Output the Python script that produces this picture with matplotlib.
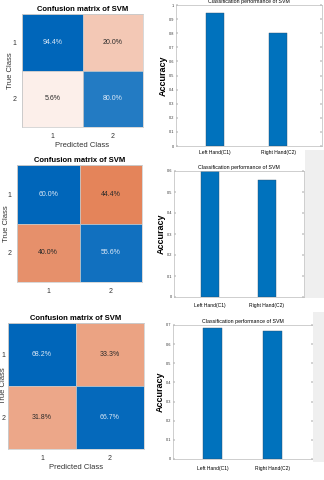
import numpy as np
import matplotlib
matplotlib.use("Agg")
import matplotlib.pyplot as plt
from matplotlib.patches import Rectangle

# confusion matrices (percent), rows = true class, cols = predicted class
cm_top = [[94.4, 20.0], [5.6, 80.0]]
cm_mid = [[60.0, 44.4], [40.0, 55.6]]
cm_bot = [[68.2, 33.3], [31.8, 66.7]]

# classification accuracy per class
acc_top = [0.944, 0.80]
acc_mid = [0.60, 0.556]
acc_bot = [0.682, 0.667]

class_ticks = ["1", "2"]
hand_labels = ["Left Hand(C1)", "Right Hand(C2)"]

W, H = 324, 480
plt.rcParams['font.family'] = ['Liberation Sans', 'DejaVu Sans']

fig = plt.figure(figsize=(W / 100, H / 100), dpi=100)


def box(l, t, r, b):
    # pixel box -> figure fraction
    return [l / W, 1 - b / H, (r - l) / W, (b - t) / H]


def blend(c, t):
    c = np.array(matplotlib.colors.to_rgb(c))
    return tuple(1 - (1 - c) * t)


def confusion(rect, cm, xlabel=True, ylab_x=-0.1, ypad=4):
    ax = fig.add_axes(rect)
    cm = np.array(cm)
    dmax = np.diag(cm).max()
    for i in range(2):
        for j in range(2):
            v = cm[i, j]
            if i == j:
                col = blend('#0066ba', 0.1 + 0.9 * v / dmax)
                tc = '#dce9f7'
            else:
                col = blend('#d95319', min(1, v / 62))
                tc = '#2a2a2a'
            ax.add_patch(Rectangle((j, i), 1, 1, facecolor=col, edgecolor='#c8c8c8', lw=0.5))
            ax.text(j + 0.5, i + 0.5, f"{v:.1f}%", ha='center', va='center', fontsize=5, color=tc)
    ax.set_xlim(0, 2)
    ax.set_ylim(2, 0)
    ax.set_xticks([0.5, 1.5], class_ticks)
    ax.set_yticks([0.5, 1.5], class_ticks)
    ax.tick_params(axis='x', length=0, labelsize=5, colors='#333333', pad=4)
    ax.tick_params(axis='y', length=0, labelsize=5, colors='#333333', pad=ypad)
    for s in ax.spines.values():
        s.set_color('#c8c8c8')
        s.set_linewidth(0.5)
    ax.set_title("Confusion matrix of SVM", fontsize=5.5, fontweight='bold', pad=2)
    if xlabel:
        ax.set_xlabel("Predicted Class", fontsize=5.5, color='#333333', labelpad=2)
    ax.set_ylabel("True Class", fontsize=5.5, color='#333333')
    ax.yaxis.set_label_coords(ylab_x, 0.5)
    return ax


def accuracy(rect, acc, ytop, xlim, width, xpad=3):
    ax = fig.add_axes(rect)
    ax.bar([1, 2], acc, width=width, color='#0072bd', edgecolor='#2a4d6e', lw=0.3)
    ax.set_xlim(*xlim)
    ax.set_ylim(0, ytop)
    ticks = np.round(np.arange(0, ytop + 0.001, 0.1), 1)
    ax.set_yticks(ticks, [f"{t:g}" for t in ticks])
    ax.set_xticks([1, 2], hand_labels)
    ax.tick_params(axis='y', direction='in', length=1.5, width=0.3, labelsize=2.8,
                   right=True, pad=1.5, colors='#333333')
    ax.tick_params(axis='x', length=0, labelsize=3.6, pad=xpad)
    for s in ax.spines.values():
        s.set_color('#bbbbbb')
        s.set_linewidth(0.5)
    ax.set_title("Classification performance of SVM", fontsize=3.8, pad=1.5)
    ax.set_ylabel("Accuracy", fontsize=6.5, fontweight='bold', labelpad=0.5)
    return ax


# grey figure backgrounds behind the right hand charts
fig.patches.append(Rectangle((305 / W, 1 - 298 / H), 19 / W, 148 / H, transform=fig.transFigure,
                             facecolor='#efefef', edgecolor='none', zorder=0))
fig.patches.append(Rectangle((313 / W, 1 - 462 / H), 11 / W, 150 / H, transform=fig.transFigure,
                             facecolor='#efefef', edgecolor='none', zorder=0))

confusion(box(22, 14, 143, 127), cm_top, ylab_x=-0.066)
confusion(box(17, 165, 142, 282), cm_mid, xlabel=False, ylab_x=-0.052)
confusion(box(8, 323, 144, 449), cm_bot, ylab_x=-0.005, ypad=1.8)

accuracy(box(176, 5, 322, 146), acc_top, 1.0, (0.39, 2.69), 0.28, xpad=3)
accuracy(box(174, 171, 304, 297), acc_mid, 0.6, (0.37, 2.65), 0.32, xpad=4)
accuracy(box(173, 325, 313, 459), acc_bot, 0.7, (0.33, 2.68), 0.32, xpad=5)

fig.savefig("out.png", dpi=100)
